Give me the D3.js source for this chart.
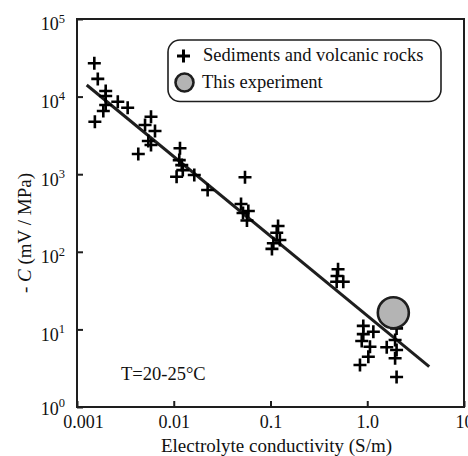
<!DOCTYPE html>
<html>
<head>
<meta charset="utf-8">
<script src="https://cdn.jsdelivr.net/npm/d3@7"></script>
<style>
  html, body { margin: 0; padding: 0; background: #fff; }
</style>
</head>
<body>
<svg id="chart" width="468" height="456"></svg>
<script>
// Electrolyte conductivity (S/m) of sediment and volcanic rock samples
const rockConductivity = [
  0.00151, 0.00164, 0.00198, 0.00198, 0.00198, 0.00187, 0.00264, 0.00334, 0.00153,
  0.00582, 0.00505, 0.0064, 0.00546, 0.00582, 0.0043,
  0.0116, 0.0114, 0.0121, 0.0124, 0.0107, 0.0163, 0.0224,
  0.0545, 0.0496, 0.059, 0.052, 0.0571,
  0.1197, 0.116, 0.125, 0.107, 0.1035,
  0.499, 0.483, 0.565, 0.487,
  0.91, 0.91, 1.156, 0.877, 1.067, 1.026, 0.841,
  2.01, 1.94, 1.59, 2.01, 1.94, 2.01
];
// Streaming potential coupling coefficient, -C (mV/MPa), for the same samples
const rockCoupling = [
  26900, 16900, 11800, 10200, 7800, 6520, 8600, 7190, 4750,
  5510, 4300, 3600, 2680, 2380, 1820,
  2160, 1520, 1310, 1130, 929, 977, 626,
  912, 413, 336, 316, 253,
  215, 176, 142, 129, 109,
  59.5, 41.2, 41.2, 48.8,
  11.1, 8.7, 9.34, 7.09, 5.98, 4.45, 3.48,
  10.3, 7.3, 5.88, 5.43, 4.24, 2.44
];
// Measurement from this experiment
const experimentConductivity = [1.86];
const experimentCoupling = [16.4];
// Fitted trend line end points
const fitConductivity = [0.00126, 4.37];
const fitCoupling = [14100, 3.31];

// Axis ticks
const xTicks = [0.001, 0.01, 0.1, 1, 10];
const xTickLabels = ["0.001", "0.01", "0.1", "1.0", "10"];
const yTicks = [1, 10, 100, 1000, 10000, 100000];
const yTickExponents = ["0", "1", "2", "3", "4", "5"];

const serif = "font-family: 'Liberation Serif', 'Times New Roman', Times, 'DejaVu Serif', serif";
const svg = d3.select("#chart");
const plotLeft = 77, plotRight = 464, plotTop = 19, plotBottom = 407;
const ink = "#1e1e1e";

const x = d3.scaleLog().domain([0.001, 10]).range([plotLeft, plotRight]);
const y = d3.scaleLog().domain([1, 1e5]).range([plotBottom, plotTop]);

// Bottom axis, ticks pointing inward
const xAxis = svg.append("g")
  .attr("transform", `translate(0,${plotBottom})`)
  .call(d3.axisBottom(x).tickValues(xTicks)
    .tickSizeInner(-6).tickSizeOuter(0).tickPadding(8)
    .tickFormat((d, i) => xTickLabels[i]));
xAxis.select(".domain").remove();
xAxis.selectAll(".tick line").attr("stroke", ink).attr("stroke-width", 2);
xAxis.selectAll(".tick text")
  .attr("style", serif).attr("font-size", "18px").attr("fill", "#111")
  .attr("dx", d => d === 0.001 ? 6 : 0);

// Left axis with power-of-ten labels
const yAxis = svg.append("g")
  .attr("transform", `translate(${plotLeft},0)`)
  .call(d3.axisLeft(y).tickValues(yTicks)
    .tickSizeInner(-6).tickSizeOuter(0).tickPadding(12)
    .tickFormat(() => ""));
yAxis.select(".domain").remove();
yAxis.selectAll(".tick line").attr("stroke", ink).attr("stroke-width", 2);
yAxis.selectAll(".tick text")
  .attr("style", serif).attr("font-size", "18px").attr("fill", "#111")
  .attr("dy", d => d === 1 ? "0.4em" : "0.6em")
  .each(function(d, i) {
    const t = d3.select(this);
    t.text("10");
    t.append("tspan").attr("dy", "-0.6em").attr("font-size", "12.5px").text(yTickExponents[i]);
  });

// Plot frame
svg.append("rect")
  .attr("x", plotLeft).attr("y", plotTop)
  .attr("width", plotRight - plotLeft).attr("height", plotBottom - plotTop)
  .attr("fill", "none").attr("stroke", ink).attr("stroke-width", 2);

// Trend line
svg.append("line")
  .attr("x1", x(fitConductivity[0])).attr("y1", y(fitCoupling[0]))
  .attr("x2", x(fitConductivity[1])).attr("y2", y(fitCoupling[1]))
  .attr("stroke", ink).attr("stroke-width", 3);

// Rock samples as plus markers
const crossPath = a => `M${-a},0H${a}M0,${-a}V${a}`;
svg.append("g").selectAll("path")
  .data(rockConductivity.map((c, i) => [c, rockCoupling[i]]))
  .join("path")
  .attr("transform", d => `translate(${x(d[0])},${y(d[1])})`)
  .attr("d", crossPath(6.5))
  .attr("stroke", "#000").attr("stroke-width", 2.6).attr("fill", "none");

// Experiment point
svg.append("g").selectAll("circle")
  .data(experimentConductivity.map((c, i) => [c, experimentCoupling[i]]))
  .join("circle")
  .attr("cx", d => x(d[0])).attr("cy", d => y(d[1]))
  .attr("r", 15.5)
  .attr("fill", "#b4b4b4").attr("stroke", ink).attr("stroke-width", 2.6);

// Temperature annotation
svg.append("text").attr("x", 121).attr("y", 380).attr("style", serif)
  .attr("font-size", "18.5px").attr("fill", "#111").text("T=20-25°C");

// Legend
const legend = svg.append("g");
legend.append("rect")
  .attr("x", 168).attr("y", 40).attr("width", 273).attr("height", 61.5)
  .attr("rx", 12).attr("ry", 12)
  .attr("fill", "#fff").attr("stroke", ink).attr("stroke-width", 1.6);
legend.append("path")
  .attr("transform", "translate(183.5,56)")
  .attr("d", crossPath(6.5))
  .attr("stroke", "#000").attr("stroke-width", 3).attr("fill", "none");
legend.append("text").attr("x", 203).attr("y", 61).attr("style", serif)
  .attr("font-size", "18.5px").attr("fill", "#111").text("Sediments and volcanic rocks");
legend.append("circle").attr("cx", 184.5).attr("cy", 82.5).attr("r", 9)
  .attr("fill", "#b4b4b4").attr("stroke", ink).attr("stroke-width", 2.6);
legend.append("text").attr("x", 202).attr("y", 88).attr("style", serif)
  .attr("font-size", "18.5px").attr("fill", "#111").text("This experiment");

// Axis titles
svg.append("text")
  .attr("x", (plotLeft + plotRight) / 2 + 6).attr("y", 452).attr("style", serif)
  .attr("text-anchor", "middle").attr("font-size", "19px").attr("fill", "#111")
  .text("Electrolyte conductivity (S/m)");

const yTitle = svg.append("text")
  .attr("transform", `translate(31,${(plotTop + plotBottom) / 2 + 20}) rotate(-90)`)
  .attr("style", serif).attr("fill", "#111")
  .attr("text-anchor", "middle").attr("font-size", "19px");
yTitle.append("tspan").text("- ");
yTitle.append("tspan").attr("font-style", "italic").text("C");
yTitle.append("tspan").text(" (mV / MPa)");
</script>
</body>
</html>
